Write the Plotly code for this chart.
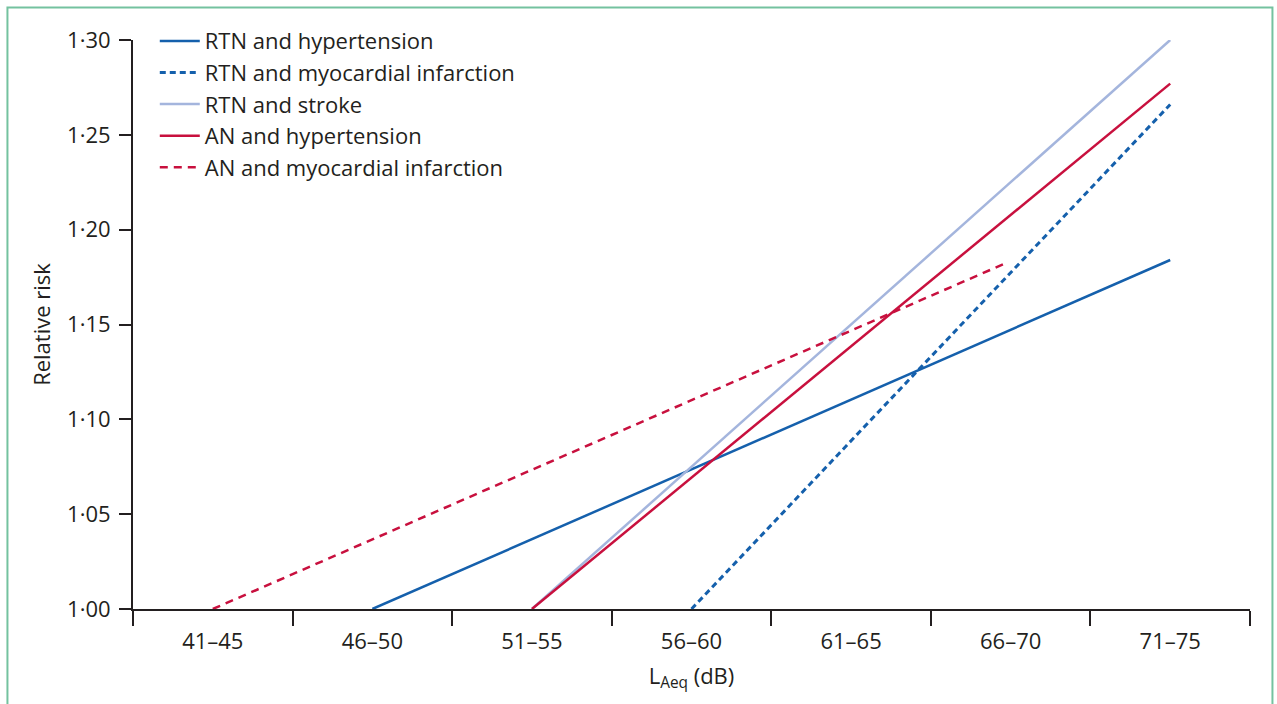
import plotly.graph_objects as go

# Data (x in bin units: 0.5 = centre of 41–45, 6.5 = centre of 71–75)
categories = ["41–45", "46–50", "51–55", "56–60", "61–65", "66–70", "71–75"]
cat_pos = [0.5, 1.5, 2.5, 3.5, 4.5, 5.5, 6.5]
bin_edges = [0, 1, 2, 3, 4, 5, 6, 7]

series_names = ["RTN and hypertension", "RTN and myocardial infarction", "RTN and stroke",
                "AN and hypertension", "AN and myocardial infarction"]
rtn_hyp_x = [1.5, 6.5]
rtn_hyp_y = [1.00, 1.184]
rtn_mi_x = [3.5, 6.5]
rtn_mi_y = [1.00, 1.266]
rtn_stroke_x = [2.5, 6.5]
rtn_stroke_y = [1.00, 1.30]
an_hyp_x = [2.5, 6.5]
an_hyp_y = [1.00, 1.277]
an_mi_x = [0.5, 5.46]
an_mi_y = [1.00, 1.182]

y_ticks = [1.00, 1.05, 1.10, 1.15, 1.20, 1.25, 1.30]
y_ticktext = ["1·00", "1·05", "1·10", "1·15", "1·20", "1·25", "1·30"]

BLUE = "#1560ac"
LIGHT = "#a4b5dd"
RED = "#c8103e"
INK = "#231f20"
FONT = "Open Sans"
FS = 22

fig = go.Figure()
specs = [
    (rtn_hyp_x, rtn_hyp_y, BLUE, "solid", 2.5),
    (rtn_mi_x, rtn_mi_y, BLUE, "6px,4px", 3),
    (rtn_stroke_x, rtn_stroke_y, LIGHT, "solid", 2.5),
    (an_hyp_x, an_hyp_y, RED, "solid", 2.5),
    (an_mi_x, an_mi_y, RED, "8px,6px", 2.5),
]
for i, (xs, ys, col, dash, w) in enumerate(specs):
    fig.add_trace(go.Scatter(
        x=xs, y=ys, mode="lines", name=series_names[i], legendgroup=f"g{i}",
        line=dict(color=col, width=w, dash=dash),
    ))

fig.update_layout(
    width=1277, height=704,
    margin=dict(l=133, r=27, t=40, b=95),
    paper_bgcolor="white", plot_bgcolor="white",
    font=dict(family=FONT, size=FS, color=INK),
    showlegend=True,
    legend=dict(
        x=0.0195, y=1.035, xanchor="left", yanchor="top",
        bgcolor="rgba(0,0,0,0)", font=dict(size=FS, family=FONT, color=INK),
        traceorder="grouped", tracegroupgap=0, itemwidth=40,
    ),
    xaxis=dict(
        range=[0, 7], showgrid=False, zeroline=False,
        showline=True, linecolor=INK, linewidth=2,
        tickmode="array", tickvals=cat_pos, ticktext=categories, ticks="",
        ticklabelstandoff=12,
        tickfont=dict(size=FS, family=FONT, color=INK),
        minor=dict(tickmode="array", tickvals=bin_edges, ticks="outside",
                   ticklen=15, tickwidth=2, tickcolor=INK, showgrid=False),
        title=dict(text="L<sub>Aeq</sub> (dB)", font=dict(size=FS, family=FONT, color=INK), standoff=14),
    ),
    yaxis=dict(
        range=[1.0, 1.30], showgrid=False, zeroline=False,
        showline=True, linecolor=INK, linewidth=2,
        tickmode="array", tickvals=y_ticks, ticktext=y_ticktext,
        ticks="outside", ticklen=12, tickwidth=2, tickcolor=INK,
        ticklabelstandoff=4,
        tickfont=dict(size=FS, family=FONT, color=INK),
        title=dict(text="Relative risk", font=dict(size=FS, family=FONT, color=INK), standoff=10),
    ),
)

# green frame around the figure
fig.add_shape(type="rect", xref="paper", yref="paper",
              x0=-0.1124, x1=1.0201, y0=-0.18, y1=1.0571,
              line=dict(color="#74c29f", width=2), fillcolor="rgba(0,0,0,0)", layer="below")

fig.write_html("out.html", config={"displayModeBar": False},
               post_script="document.body.style.margin='0px';")
